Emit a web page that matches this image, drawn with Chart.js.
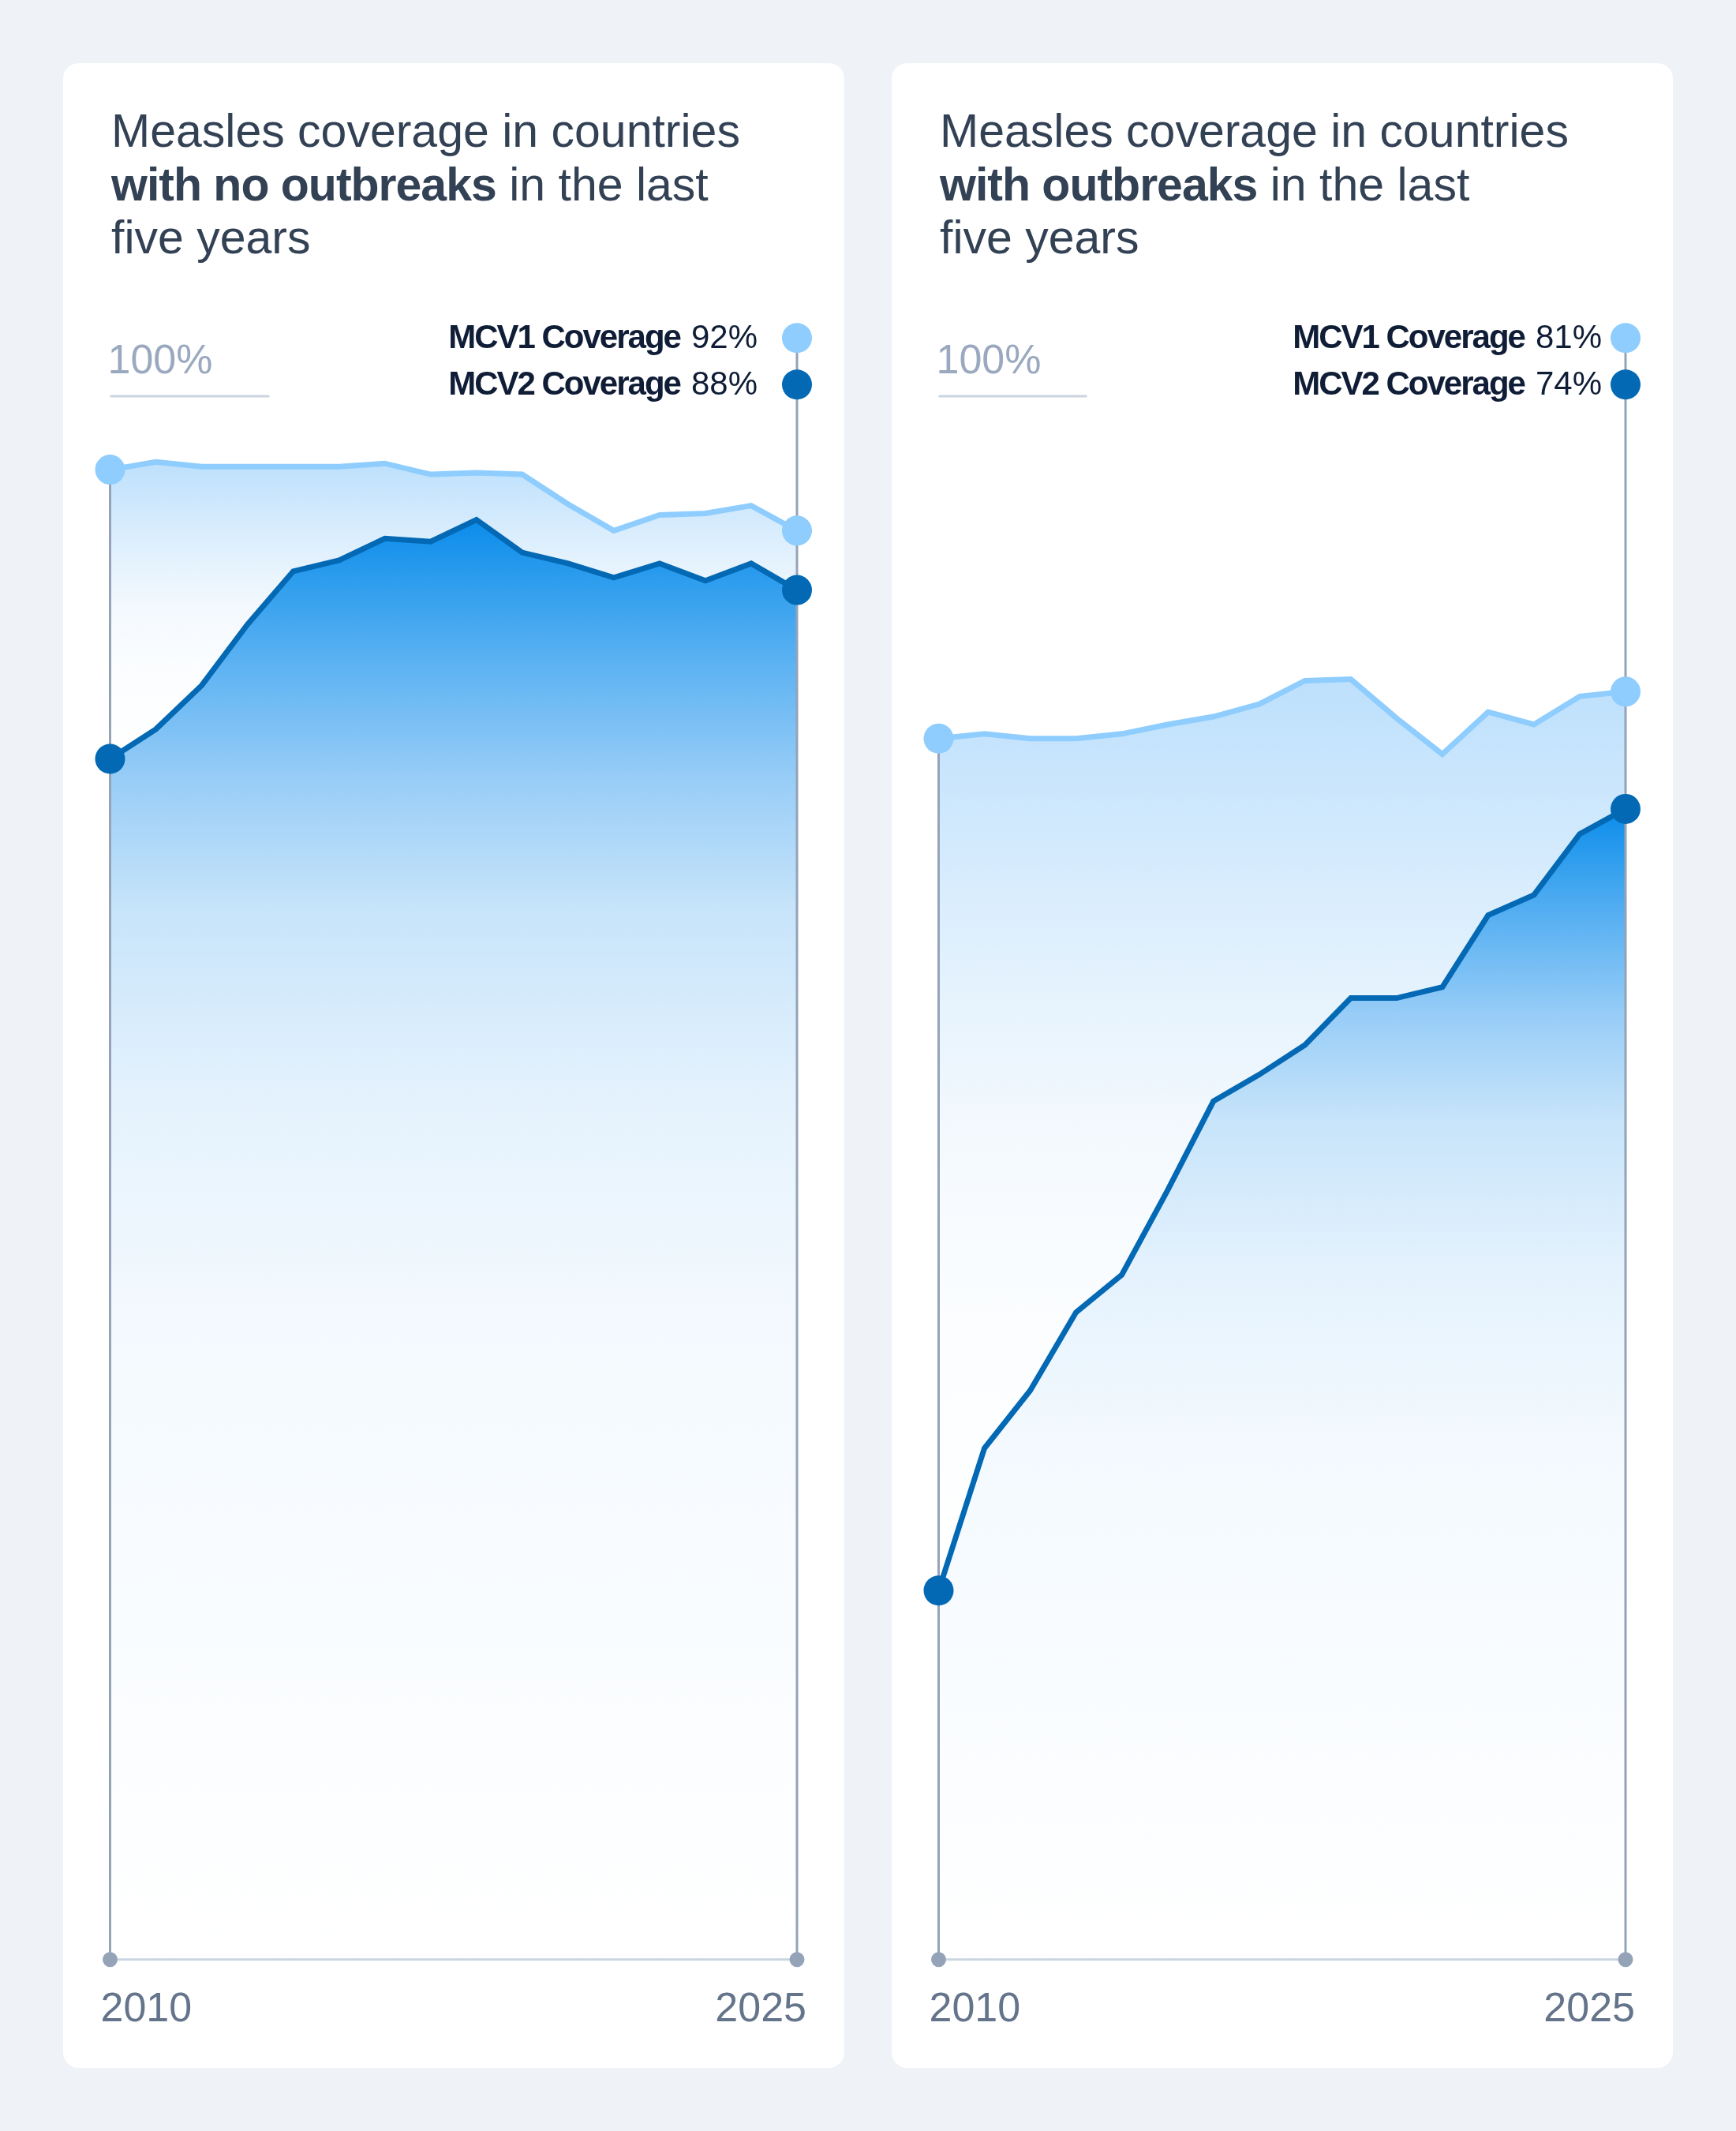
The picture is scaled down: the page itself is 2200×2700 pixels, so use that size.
<!DOCTYPE html>
<html>
<head>
<meta charset="utf-8">
<script src="https://cdn.jsdelivr.net/npm/chart.js@4.4.1/dist/chart.umd.min.js"></script>
<style>
  html, body { margin: 0; padding: 0; }
  body { width: 2200px; height: 2700px; background: #eff3f8; position: relative; font-family: "Liberation Sans", Arial, sans-serif; }
  .card { position: absolute; top: 80px; width: 990px; height: 2540px; background: #ffffff; border-radius: 20px; overflow: hidden; }
  .card canvas { position: absolute; left: 0; top: 0; }
  .title { position: absolute; left: 61px; top: 53px; font-size: 59px; line-height: 67.5px; color: #334155; white-space: nowrap; z-index: 2; }
  .title b { font-weight: 700; letter-spacing: -1px; }
</style>
</head>
<body>

<div class="card" style="left:80px">
  <div class="title">Measles coverage in countries<br><b>with no outbreaks</b> in the last<br>five years</div>
  <canvas id="chartNoOutbreaks" width="990" height="2540"></canvas>
</div>

<div class="card" style="left:1130px">
  <div class="title">Measles coverage in countries<br><b>with outbreaks</b> in the last<br>five years</div>
  <canvas id="chartOutbreaks" width="990" height="2540"></canvas>
</div>

<script>
var years = ['2010', '2011', '2012', '2013', '2014', '2015', '2016', '2017',
             '2018', '2019', '2020', '2021', '2022', '2023', '2024', '2025'];

// countries with no outbreaks in the last five years
var mcv1NoOutbreaks = [95.3, 95.8, 95.5, 95.5, 95.5, 95.5, 95.7, 95.0, 95.1, 95.0, 93.1, 91.4, 92.4, 92.5, 93.0, 91.4];
var mcv2NoOutbreaks = [76.8, 78.7, 81.5, 85.4, 88.8, 89.5, 90.9, 90.7, 92.1, 90.0, 89.3, 88.4, 89.3, 88.2, 89.3, 87.6];

// countries with outbreaks in the last five years
var mcv1Outbreaks = [78.1, 78.4, 78.1, 78.1, 78.4, 79.0, 79.5, 80.3, 81.8, 81.9, 79.4, 77.1, 79.8, 79.0, 80.8, 81.1];
var mcv2Outbreaks = [23.6, 32.7, 36.4, 41.4, 43.8, 49.2, 54.9, 56.6, 58.5, 61.5, 61.5, 62.2, 66.8, 68.1, 72.0, 73.6];

var seriesNames = ['MCV1 Coverage', 'MCV2 Coverage'];
var legendNoOutbreaks = ['92%', '88%'];
var legendOutbreaks = ['81%', '74%'];
var topTickLabel = '100%';

var FONT = '"Liberation Sans", Arial, sans-serif';
var LIGHT = '#8ecdfd';
var DARK = '#0369b4';

var lightStops = [[0, '#bde0fc'], [0.2, '#d5ebfd'], [0.35, '#e6f3fd'], [0.5, '#f4f9fe'], [0.7, '#fbfdff'], [1, '#ffffff']];
var darkStops = [[0, '#0b8ceb'], [0.05, '#34a0ee'], [0.1, '#5cb2f2'], [0.18, '#98cdf7'], [0.27, '#c7e4fa'],
                 [0.4, '#e4f2fd'], [0.55, '#f3f9fe'], [0.75, '#f9fcff'], [1, '#ffffff']];

// gradient from the top of a series down to the bottom of its filled band
function fadeFill(stops, bottomOf) {
    return function(context) {
        var chart = context.chart;
        var area = chart.chartArea;
        if (!area) return stops[0][1];
        var y = chart.scales.y;
        var data = chart.data.datasets[context.datasetIndex].data;
        var top = y.getPixelForValue(Math.max.apply(null, data));
        var bottom = bottomOf === 'base' ? area.bottom
            : y.getPixelForValue(Math.min.apply(null, chart.data.datasets[bottomOf].data));
        var g = chart.ctx.createLinearGradient(0, top, 0, bottom);
        stops.forEach(function(s) { g.addColorStop(s[0], s[1]); });
        return g;
    };
}

function dot(ctx, x, y, r, color) {
    ctx.beginPath();
    ctx.arc(x, y, r, 0, Math.PI * 2);
    ctx.fillStyle = color;
    ctx.fill();
}

var decorPlugin = {
    id: 'decor',
    afterDatasetsDraw: function(chart, args, o) {
        var ctx = chart.ctx;
        var area = chart.chartArea;
        var xs = chart.scales.x;
        var y0 = chart.scales.y.getPixelForValue(0);
        var y100 = chart.scales.y.getPixelForValue(100);
        var light = chart.getDatasetMeta(0).data;
        var dark = chart.getDatasetMeta(1).data;
        var last = light.length - 1;

        ctx.save();

        // 100% label and its rule
        ctx.font = '52px ' + FONT;
        ctx.fillStyle = '#9aa9bf';
        ctx.textAlign = 'left';
        ctx.textBaseline = 'alphabetic';
        ctx.fillText(o.topLabel, area.left - 3, y100 - 29);
        ctx.strokeStyle = '#cbd5e1';
        ctx.lineWidth = 3;
        ctx.beginPath();
        ctx.moveTo(area.left, y100);
        ctx.lineTo(area.left + o.ruleWidth, y100);
        ctx.stroke();

        // baseline
        ctx.beginPath();
        ctx.moveTo(area.left, y0);
        ctx.lineTo(area.right, y0);
        ctx.stroke();

        // first and last year under the baseline
        ctx.font = '52px ' + FONT;
        ctx.fillStyle = '#64748b';
        ctx.textAlign = 'left';
        ctx.fillText(xs.getLabelForValue(0), xs.getPixelForTick(0) - 12, y0 + 78);
        ctx.textAlign = 'right';
        ctx.fillText(xs.getLabelForValue(last), xs.getPixelForTick(last) + 12, y0 + 78);

        // vertical guides
        ctx.strokeStyle = '#94a3b8';
        ctx.lineWidth = 3;
        ctx.beginPath();
        ctx.moveTo(light[0].x, light[0].y);
        ctx.lineTo(light[0].x, y0);
        ctx.moveTo(light[last].x, o.legendY[0]);
        ctx.lineTo(light[last].x, y0);
        ctx.stroke();

        dot(ctx, area.left, y0, 9.5, '#94a3b8');
        dot(ctx, area.right, y0, 9.5, '#94a3b8');

        // end points of both series
        dot(ctx, light[0].x, light[0].y, 19, LIGHT);
        dot(ctx, light[last].x, light[last].y, 19, LIGHT);
        dot(ctx, dark[0].x, dark[0].y, 19, DARK);
        dot(ctx, dark[last].x, dark[last].y, 19, DARK);

        // legend
        var xr = light[last].x;
        var numRight = xr - o.legendGap;
        var boldFont = '700 42px ' + FONT;
        var normFont = '42px ' + FONT;
        var widest = 0;
        for (var i = 0; i < 2; i++) {
            ctx.font = boldFont;
            ctx.letterSpacing = '-2px';
            var w = ctx.measureText(seriesNames[i]).width;
            ctx.font = normFont;
            ctx.letterSpacing = '0px';
            w += 14 + ctx.measureText(o.values[i]).width;
            widest = Math.max(widest, w);
        }
        var labelLeft = numRight - widest;
        for (var j = 0; j < 2; j++) {
            var ly = o.legendY[j];
            dot(ctx, xr, ly, 19, j === 0 ? LIGHT : DARK);
            ctx.fillStyle = '#0f1d36';
            ctx.textBaseline = 'alphabetic';
            ctx.font = boldFont;
            ctx.letterSpacing = '-2px';
            ctx.textAlign = 'left';
            ctx.fillText(seriesNames[j], labelLeft, ly + 13);
            ctx.font = normFont;
            ctx.letterSpacing = '0px';
            ctx.textAlign = 'right';
            ctx.fillText(o.values[j], numRight, ly + 13);
        }

        ctx.restore();
    }
};

function makeChart(id, mcv1, mcv2, values, ruleWidth, legendGap) {
    var ctx = document.getElementById(id).getContext('2d');
    return new Chart(ctx, {
        type: 'line',
        data: {
            labels: years,
            datasets: [{
                label: seriesNames[0],
                data: mcv1,
                borderColor: LIGHT,
                borderWidth: 7,
                backgroundColor: fadeFill(lightStops, 1),
                fill: 1,
                pointRadius: 0,
                order: 2
            }, {
                label: seriesNames[1],
                data: mcv2,
                borderColor: DARK,
                borderWidth: 7,
                backgroundColor: fadeFill(darkStops, 'base'),
                fill: 'origin',
                pointRadius: 0,
                order: 1
            }]
        },
        options: {
            responsive: false,
            animation: false,
            devicePixelRatio: 1,
            layout: { padding: { left: 59.5, right: 60, top: 422, bottom: 37.3 } },
            elements: { line: { tension: 0 } },
            scales: {
                x: {
                    type: 'category',
                    offset: false,
                    grid: { display: false, drawTicks: false },
                    border: { display: false },
                    ticks: { display: false },
                    afterFit: function(s) { s.height = 100; }
                },
                y: { display: false, min: 0, max: 100 }
            },
            plugins: {
                legend: { display: false },
                tooltip: { enabled: false },
                decor: {
                    topLabel: topTickLabel,
                    values: values,
                    ruleWidth: ruleWidth,
                    legendGap: legendGap,
                    legendY: [348.3, 407.3]
                }
            }
        },
        plugins: [decorPlugin]
    });
}

makeChart('chartNoOutbreaks', mcv1NoOutbreaks, mcv2NoOutbreaks, legendNoOutbreaks, 202, 50);
makeChart('chartOutbreaks', mcv1Outbreaks, mcv2Outbreaks, legendOutbreaks, 188, 30);
</script>
</body>
</html>
